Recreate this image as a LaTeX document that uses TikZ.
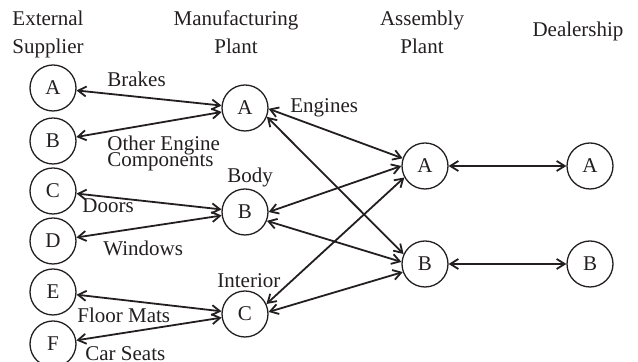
\documentclass[tikz,border=0pt]{standalone}
\usepackage{fontspec}
\setmainfont{Liberation Serif}
\usetikzlibrary{arrows.meta}

\begin{document}
\begin{tikzpicture}[
		x=0.5pt,
		y=-0.5pt,
		NutTron/.style={circle, draw=MauVien, line width=0.65pt,
			minimum size=23pt, inner sep=0pt, text=MauChu,
			font=\fontsize{10.5}{14}\selectfont},
		NhanChu/.style={inner sep=0pt, text=MauChu,
			font=\fontsize{10.5}{14}\selectfont},
		MuiTen/.style={MauVien, line width=0.9pt,
			{Straight Barb[length=4pt,width=5pt]}-{Straight Barb[length=4pt,width=5pt]}}
	]
	% ===== MÀU SẮC =====
	\definecolor{MauVien}{RGB}{35,31,32}
	\definecolor{MauChu}{RGB}{35,31,32}

	\useasboundingbox (0,0) rectangle (638,362);

	% ===== TIÊU ĐỀ CÁC CỘT =====
	\node[NhanChu, align=center, anchor=base] (tdNCC) at (48,54) {External\\Supplier};
	\node[NhanChu, align=center, anchor=base] (tdSX) at (236,54) {Manufacturing\\Plant};
	\node[NhanChu, align=center, anchor=base] (tdLR) at (422,54) {Assembly\\Plant};
	\node[NhanChu, anchor=base] (tdDL) at (578,37) {Dealership};

	% ===== NHÀ CUNG CẤP =====
	\node[NutTron] (sA) at (53,88) {A};
	\node[NutTron] (sB) at (53,141) {B};
	\node[NutTron] (sC) at (53,191) {C};
	\node[NutTron] (sD) at (53,241) {D};
	\node[NutTron] (sE) at (53,292) {E};
	\node[NutTron] (sF) at (53,344) {F};

	% ===== NHÀ MÁY SẢN XUẤT =====
	\node[NutTron] (mA) at (245,108) {A};
	\node[NutTron] (mB) at (245,212) {B};
	\node[NutTron] (mC) at (245,314) {C};

	% ===== NHÀ MÁY LẮP RÁP VÀ ĐẠI LÝ =====
	\node[NutTron] (aA) at (425,166) {A};
	\node[NutTron] (aB) at (425,264) {B};
	\node[NutTron] (dA) at (590,166) {A};
	\node[NutTron] (dB) at (590,264) {B};

	% ===== MŨI TÊN =====
	\draw[MuiTen] (sA) -- (mA);
	\draw[MuiTen] (sB) -- (mA);
	\draw[MuiTen] (sC) -- (mB);
	\draw[MuiTen] (sD) -- (mB);
	\draw[MuiTen] (sE) -- (mC);
	\draw[MuiTen] (sF) -- (mC);

	\draw[MuiTen] (mA.-2) -- (aA.161);
	\draw[MuiTen] (mA.-22) -- (aB.155);
	\draw[MuiTen] (mB.0) -- (aA.180);
	\draw[MuiTen] (mB.-22) -- (aB.175);
	\draw[MuiTen] (mC.25) -- (aA.209);
	\draw[MuiTen] (mC.5) -- (aB.200);

	\draw[MuiTen] (aA) -- (dA);
	\draw[MuiTen] (aB) -- (dB);

	% ===== NHÃN =====
	\node[NhanChu, anchor=base west] (nBrakes) at (107,87) {Brakes};
	\node[NhanChu, align=left, anchor=base west] (nOther) at (107,167) {Other Engine\\[-6pt]Components};
	\node[NhanChu, anchor=base west] (nEngines) at (290,113) {Engines};
	\node[NhanChu, anchor=base west] (nBody) at (227,183) {Body};
	\node[NhanChu, anchor=base west] (nDoors) at (82,213) {Doors};
	\node[NhanChu, anchor=base west] (nWindows) at (103,256) {Windows};
	\node[NhanChu, anchor=base west] (nInterior) at (217,288) {Interior};
	\node[NhanChu, anchor=base west] (nFloor) at (77,323) {Floor Mats};
	\node[NhanChu, anchor=base west] (nSeats) at (85,361) {Car Seats};

\end{tikzpicture}
\end{document}
